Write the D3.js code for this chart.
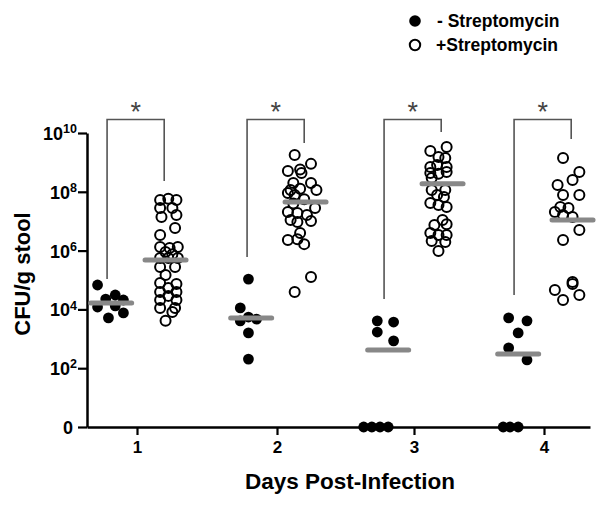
<!DOCTYPE html>
<html>
<head>
<meta charset="utf-8">
<script src="https://cdn.jsdelivr.net/npm/d3@7/dist/d3.min.js"></script>
<style>
  html, body { margin: 0; padding: 0; background: #fff; }
  svg { display: block; }
  text { font-family: "Liberation Sans", Arial, sans-serif; }
</style>
</head>
<body>
<svg id="chart" width="612" height="506"></svg>
<script>
// ---------------- DATA ----------------
const days = [1, 2, 3, 4];
const xTickLabels = ["1", "2", "3", "4"];
const yTickValues = [0, 2, 4, 6, 8, 10];   // log10 CFU/g (0 = none detected)
const seriesNames = ["- Streptomycin", "+Streptomycin"];

// each point: [jitter offset from day (in days), log10 CFU/g]
const noStrep = [
  [[-0.29,4.83],[-0.23,4.35],[-0.16,4.49],[-0.10,4.32],[-0.29,4.08],[-0.16,4.12],[-0.21,3.71],[-0.10,3.88]],
  [[-0.21,5.03],[-0.27,4.05],[-0.21,3.74],[-0.15,3.67],[-0.27,3.61],[-0.21,3.20],[-0.21,2.31]],
  [[-0.27,3.61],[-0.15,3.57],[-0.27,3.23],[-0.15,2.93],[-0.37,0],[-0.31,0],[-0.25,0],[-0.19,0]],
  [[-0.26,3.71],[-0.125,3.61],[-0.19,3.20],[-0.26,2.69],[-0.125,2.28],[-0.30,0],[-0.25,0],[-0.19,0]]
];
const withStrep = [
  [[0.17,7.72],[0.23,7.76],[0.29,7.72],[0.17,7.45],[0.26,7.45],[0.18,7.14],[0.29,7.21],[0.28,6.77],
   [0.17,6.53],[0.17,6.12],[0.24,6.09],[0.30,6.12],[0.21,5.95],[0.26,5.88],[0.23,5.75],[0.17,5.75],
   [0.30,5.75],[0.17,5.44],[0.28,5.44],[0.21,5.17],[0.17,4.90],[0.29,4.86],[0.23,4.73],[0.17,4.59],
   [0.29,4.59],[0.23,4.46],[0.17,4.32],[0.29,4.32],[0.17,4.05],[0.28,4.05],[0.26,3.91],[0.21,3.61]],
  [[0.13,9.25],[0.25,8.95],[0.08,8.71],[0.17,8.76],[0.18,8.64],[0.12,8.30],[0.25,8.30],[0.10,8.06],
   [0.17,8.10],[0.29,8.06],[0.08,7.96],[0.13,7.89],[0.20,7.75],[0.12,7.60],[0.28,7.45],[0.08,7.31],
   [0.15,7.28],[0.22,7.21],[0.10,7.04],[0.15,6.97],[0.25,7.01],[0.17,6.60],[0.08,6.36],[0.15,6.39],
   [0.20,6.22],[0.25,5.10],[0.13,4.59]],
  [[0.24,9.52],[0.12,9.39],[0.18,9.18],[0.23,9.15],[0.12,8.84],[0.17,8.91],[0.24,8.84],[0.12,8.64],
   [0.18,8.61],[0.24,8.67],[0.13,8.47],[0.13,8.06],[0.23,8.06],[0.17,7.89],[0.22,7.82],[0.12,7.62],
   [0.18,7.55],[0.24,7.48],[0.21,7.04],[0.15,6.87],[0.24,6.90],[0.12,6.60],[0.18,6.53],[0.24,6.53],
   [0.13,6.33],[0.23,6.29],[0.18,5.99]],
  [[0.14,9.15],[0.26,8.67],[0.21,8.40],[0.10,8.23],[0.26,7.89],[0.14,7.89],[0.12,7.48],[0.18,7.45],
   [0.08,7.31],[0.14,7.21],[0.21,7.14],[0.26,6.70],[0.14,6.36],[0.21,4.93],[0.21,4.86],[0.08,4.66],
   [0.26,4.49],[0.14,4.32]]
];
const noStrepMedian = [4.22, 3.71, 2.62, 2.48];
const withStrepMedian = [5.68, 7.65, 8.27, 7.04];
// significance brackets: leg ends (log10) and label
const bracketLeftEnd = [5.03, 5.78, 4.35, 4.49];
const bracketRightEnd = [8.37, 9.66, 10.03, 9.80];
const bracketTop = 10.46;
const sigLabels = ["*", "*", "*", "*"];

// ---------------- CHART ----------------
const svg = d3.select("#chart");
const font = '"Liberation Sans", Arial, sans-serif';

const x = d3.scaleLinear().domain([0.64, 1, 2, 3, 4, 4.34]).range([87, 137, 277, 414, 544, 590]);
const jit = d3.scaleLinear().domain([0, 1]).range([0, 136]);
const y = d3.scaleLinear().domain([0, 10]).range([427, 133]);
const px = (day, off) => x(day) + jit(off);

// Y axis
const yAxis = svg.append("g").attr("transform", "translate(87,0)")
  .call(d3.axisLeft(y).tickValues(yTickValues).tickSize(9).tickSizeOuter(0));
yAxis.select(".domain").attr("stroke", "#000").attr("stroke-width", 2.5);
yAxis.selectAll(".tick line").attr("stroke", "#000").attr("stroke-width", 2.2);
yAxis.selectAll(".tick text").each(function(d) {
  const t = d3.select(this);
  t.text(null).attr("font-family", font).attr("font-weight", "bold").attr("fill", "#000")
    .attr("font-size", 18).attr("x", -10).attr("dy", "0.36em");
  if (d === 0) {
    t.attr("x", -14).text("0");
  } else {
    t.append("tspan").text("10");
    t.append("tspan").attr("font-size", 12.5).attr("dy", "-0.55em").text(String(d));
  }
});

// X axis
const xAxis = svg.append("g").attr("transform", "translate(0,427)")
  .call(d3.axisBottom(x).tickValues(days).tickSize(8).tickSizeOuter(0)
    .tickFormat((d, i) => xTickLabels[i]));
xAxis.select(".domain").attr("stroke", "#000").attr("stroke-width", 2.5);
xAxis.selectAll(".tick line").attr("stroke", "#000").attr("stroke-width", 2.2);
xAxis.selectAll(".tick text").attr("font-family", font).attr("font-weight", "bold")
  .attr("font-size", 17).attr("fill", "#000").attr("y", 14);

// Axis titles
svg.append("text").attr("x", 350).attr("y", 489).attr("text-anchor", "middle")
  .attr("font-family", font).attr("font-weight", "bold").attr("font-size", 22.5)
  .text("Days Post-Infection");
svg.append("text").attr("transform", "translate(30,274) rotate(-90)").attr("text-anchor", "middle")
  .attr("font-family", font).attr("font-weight", "bold").attr("font-size", 22)
  .text("CFU/g stool");

// Brackets
const brk = svg.append("g");
days.forEach((d, i) => {
  const xl = px(d, -0.22), xr = px(d, 0.20);
  brk.append("path")
    .attr("d", `M${xl},${y(bracketLeftEnd[i])}V${y(bracketTop)}H${xr}V${y(bracketRightEnd[i])}`)
    .attr("fill", "none").attr("stroke", "#555").attr("stroke-width", 1.6);
  brk.append("text").attr("x", (xl + xr) / 2).attr("y", 121).attr("text-anchor", "middle")
    .attr("font-family", "DejaVu Sans, sans-serif").attr("font-size", 27).attr("fill", "#444")
    .text(sigLabels[i]);
});

// Points
const pts = svg.append("g");
days.forEach((d, i) => {
  pts.selectAll(null).data(noStrep[i]).join("circle")
    .attr("cx", p => px(d, p[0])).attr("cy", p => y(p[1])).attr("r", 5.4).attr("fill", "#000");
  pts.selectAll(null).data(withStrep[i]).join("circle")
    .attr("cx", p => px(d, p[0])).attr("cy", p => y(p[1])).attr("r", 5)
    .attr("fill", "none").attr("stroke", "#000").attr("stroke-width", 2);
});

// Median bars
const med = svg.append("g");
days.forEach((d, i) => {
  [[-0.19, noStrepMedian[i]], [0.21, withStrepMedian[i]]].forEach(([c, m]) => {
    med.append("line")
      .attr("x1", px(d, c) - 20.5).attr("x2", px(d, c) + 20.5)
      .attr("y1", y(m)).attr("y2", y(m))
      .attr("stroke", "#888").attr("stroke-width", 5).attr("stroke-linecap", "round");
  });
});

// Legend
const leg = svg.append("g");
leg.append("circle").attr("cx", 415).attr("cy", 21).attr("r", 5.8).attr("fill", "#000");
leg.append("circle").attr("cx", 415).attr("cy", 45).attr("r", 5.2).attr("fill", "none")
  .attr("stroke", "#000").attr("stroke-width", 2);
leg.append("text").attr("x", 437).attr("y", 27).attr("font-family", font).attr("font-weight", "bold")
  .attr("font-size", 17.5).text(seriesNames[0]);
leg.append("text").attr("x", 436).attr("y", 51).attr("font-family", font).attr("font-weight", "bold")
  .attr("font-size", 17.5).text(seriesNames[1]);
</script>
</body>
</html>
